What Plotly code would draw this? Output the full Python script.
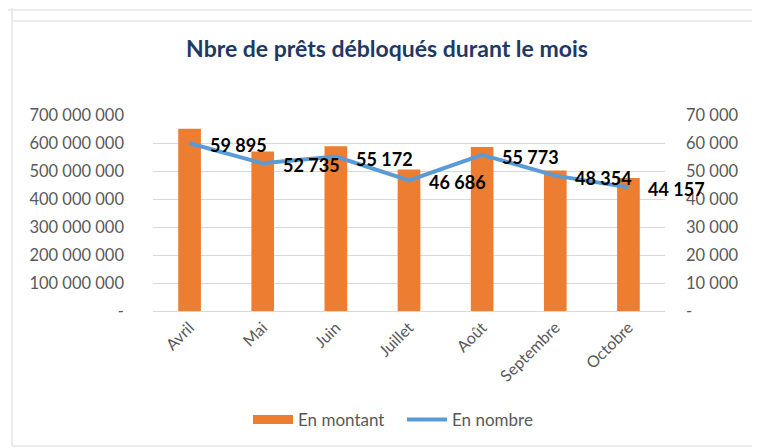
import plotly.graph_objects as go

mois = ["Avril", "Mai", "Juin", "Juillet", "Août", "Septembre", "Octobre"]
en_montant = [651_000_000, 570_000_000, 588_000_000, 505_000_000, 586_000_000, 502_000_000, 475_000_000]
en_nombre = [59895, 52735, 55172, 46686, 55773, 48354, 44157]

left_ticks = [0, 100_000_000, 200_000_000, 300_000_000, 400_000_000, 500_000_000, 600_000_000, 700_000_000]
left_text = ["-", "100 000 000", "200 000 000", "300 000 000", "400 000 000", "500 000 000", "600 000 000", "700 000 000"]
right_ticks = [0, 10000, 20000, 30000, 40000, 50000, 60000, 70000]
right_text = ["-", "10 000", "20 000", "30 000", "40 000", "50 000", "60 000", "70 000"]

def fmt(v):
    return f"{v:,}".replace(",", " ")

# The page body adds an 8px offset; lay out in screen pixels and compensate.
OFF = 8
W, H = 760, 448
PL, PT, PW, PH = 153, 115, 512, 196   # plot area in screen pixels
L, T = PL - OFF, PT - OFF
R, B = W - L - PW, H - T - PH

def px(x):
    return (x - OFF - L) / PW

def py(y):
    return (T + PH - (y - OFF)) / PH

FONT = "Lato"
ORANGE = "#ED7D31"
BLUE = "#5B9BD5"
fig = go.Figure()
fig.add_trace(go.Bar(
    x=mois, y=en_montant, name="En montant",
    marker=dict(color=ORANGE, line=dict(width=0)),
    width=0.31, yaxis="y", showlegend=False,
))
# legend entry drawn as a wide orange rectangle, like the reference
fig.add_trace(go.Scatter(
    x=[None], y=[None], name="En montant", mode="lines",
    line=dict(color=ORANGE, width=9), yaxis="y", hoverinfo="skip",
))
fig.add_trace(go.Scatter(
    x=mois, y=en_nombre, name="En nombre", mode="lines",
    line=dict(color=BLUE, width=4),
    yaxis="y2",
))

annotations = []
for m, v in zip(mois, en_nombre):
    annotations.append(dict(
        x=m, y=v, xref="x", yref="y2", text=f"<b>{fmt(v)}</b>", showarrow=False,
        xanchor="left", yanchor="middle", xshift=18, yshift=-2,
        font=dict(family=FONT, size=18, color="#000000"),
    ))

frame = dict(color="#E4E4E4", width=1.5)
shapes = [
    dict(type="line", xref="paper", yref="paper", x0=px(0), x1=px(770), y0=py(10), y1=py(10), line=frame),
    dict(type="line", xref="paper", yref="paper", x0=px(12), x1=px(770), y0=py(21), y1=py(21), line=frame),
    dict(type="line", xref="paper", yref="paper", x0=px(12), x1=px(12), y0=py(0), y1=py(446), line=frame),
    dict(type="line", xref="paper", yref="paper", x0=px(12), x1=px(770), y0=py(446), y1=py(446), line=frame),
]

fig.update_layout(
    width=W, height=H,
    margin=dict(l=L, r=R, t=T, b=B, autoexpand=False),
    paper_bgcolor="white", plot_bgcolor="white",
    font=dict(family=FONT, color="#595959", size=16),
    title=dict(text="<b>Nbre de prêts débloqués durant le mois</b>", x=px(387), xref="paper",
               xanchor="center", y=1 - (49 - OFF) / H, yref="container", yanchor="middle",
               font=dict(family=FONT, size=23, color="#1F3864")),
    bargap=0.69,
    xaxis=dict(range=[-0.5, 6.5], tickangle=-45, tickfont=dict(size=16, color="#595959"), showline=True,
               linecolor="#D9D9D9", linewidth=1, ticks="", showgrid=False, automargin=False),
    yaxis=dict(range=[0, 700_000_000], tickvals=left_ticks, ticktext=left_text,
               showgrid=True, gridcolor="#D9D9D9", gridwidth=1, zeroline=False, automargin=False,
               ticklabelstandoff=28, tickfont=dict(size=16.5, color="#595959")),
    yaxis2=dict(range=[0, 70000], tickvals=right_ticks, ticktext=right_text, overlaying="y",
                side="right", showgrid=False, zeroline=False, ticklabelstandoff=20, automargin=False,
                tickfont=dict(size=16.5, color="#595959")),
    legend=dict(orientation="h", x=px(402), xanchor="center", y=py(420), yanchor="middle",
                font=dict(size=17, color="#595959"), entrywidth=99, itemwidth=40),
    annotations=annotations,
    shapes=shapes,
    showlegend=True,
)

fig.write_html("out.html")
